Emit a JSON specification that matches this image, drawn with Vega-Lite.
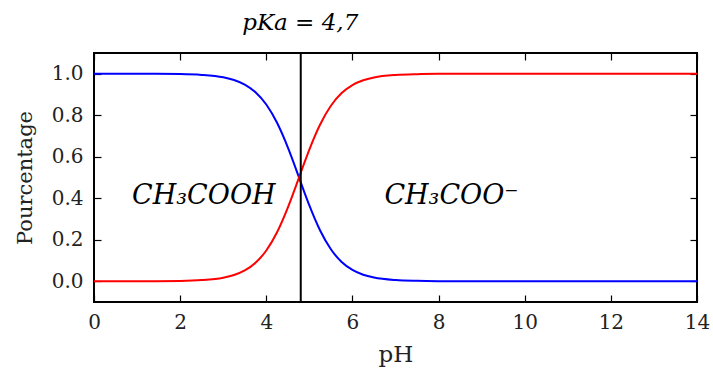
{
  "$schema": "https://vega.github.io/schema/vega-lite/v6.json",
  "autosize": "none",
  "width": 603,
  "height": 249,
  "padding": {"left": 94, "top": 53, "right": 16, "bottom": 70},
  "background": "white",
  "config": {
    "view": {"stroke": "black", "strokeWidth": 2},
    "axis": {
      "grid": false,
      "domain": false,
      "labelFlush": false,
      "tickColor": "black",
      "tickWidth": 1.2,
      "tickSize": -7,
      "labelFont": "DejaVu Serif",
      "labelFontSize": 20,
      "labelColor": "#222",
      "titleFont": "DejaVu Serif",
      "titleFontWeight": "normal",
      "titleColor": "#222"
    }
  },
  "title": {
    "text": "pKa = 4,7",
    "font": "DejaVu Serif",
    "fontStyle": "italic",
    "fontWeight": "normal",
    "fontSize": 23,
    "anchor": "start",
    "dx": 228,
    "offset": 17,
    "color": "black"
  },
  "datasets": {
    "curves": [
      {"pH": 0, "frac": 1.0, "species": "CH3COOH"},
      {"pH": 1, "frac": 0.99983, "species": "CH3COOH"},
      {"pH": 2, "frac": 0.99827, "species": "CH3COOH"},
      {"pH": 2.5, "frac": 0.99453, "species": "CH3COOH"},
      {"pH": 3, "frac": 0.98292, "species": "CH3COOH"},
      {"pH": 3.25, "frac": 0.97003, "species": "CH3COOH"},
      {"pH": 3.5, "frac": 0.94791, "species": "CH3COOH"},
      {"pH": 3.75, "frac": 0.91097, "species": "CH3COOH"},
      {"pH": 4, "frac": 0.85196, "species": "CH3COOH"},
      {"pH": 4.25, "frac": 0.76392, "species": "CH3COOH"},
      {"pH": 4.5, "frac": 0.64535, "species": "CH3COOH"},
      {"pH": 4.6, "frac": 0.59107, "species": "CH3COOH"},
      {"pH": 4.7, "frac": 0.53449, "species": "CH3COOH"},
      {"pH": 4.76, "frac": 0.5, "species": "CH3COOH"},
      {"pH": 4.8, "frac": 0.47699, "species": "CH3COOH"},
      {"pH": 4.9, "frac": 0.4201, "species": "CH3COOH"},
      {"pH": 5, "frac": 0.36526, "species": "CH3COOH"},
      {"pH": 5.25, "frac": 0.24448, "species": "CH3COOH"},
      {"pH": 5.5, "frac": 0.15395, "species": "CH3COOH"},
      {"pH": 5.75, "frac": 0.09283, "species": "CH3COOH"},
      {"pH": 6, "frac": 0.05442, "species": "CH3COOH"},
      {"pH": 6.25, "frac": 0.03134, "species": "CH3COOH"},
      {"pH": 6.5, "frac": 0.01787, "species": "CH3COOH"},
      {"pH": 7, "frac": 0.00572, "species": "CH3COOH"},
      {"pH": 7.5, "frac": 0.00182, "species": "CH3COOH"},
      {"pH": 8, "frac": 0.00058, "species": "CH3COOH"},
      {"pH": 9, "frac": 0.00006, "species": "CH3COOH"},
      {"pH": 10, "frac": 0.00001, "species": "CH3COOH"},
      {"pH": 12, "frac": 0.0, "species": "CH3COOH"},
      {"pH": 14, "frac": 0.0, "species": "CH3COOH"},
      {"pH": 0, "frac": 0.0, "species": "CH3COO-"},
      {"pH": 1, "frac": 0.00017, "species": "CH3COO-"},
      {"pH": 2, "frac": 0.00173, "species": "CH3COO-"},
      {"pH": 2.5, "frac": 0.00547, "species": "CH3COO-"},
      {"pH": 3, "frac": 0.01708, "species": "CH3COO-"},
      {"pH": 3.25, "frac": 0.02997, "species": "CH3COO-"},
      {"pH": 3.5, "frac": 0.05209, "species": "CH3COO-"},
      {"pH": 3.75, "frac": 0.08903, "species": "CH3COO-"},
      {"pH": 4, "frac": 0.14804, "species": "CH3COO-"},
      {"pH": 4.25, "frac": 0.23608, "species": "CH3COO-"},
      {"pH": 4.5, "frac": 0.35465, "species": "CH3COO-"},
      {"pH": 4.6, "frac": 0.40893, "species": "CH3COO-"},
      {"pH": 4.7, "frac": 0.46551, "species": "CH3COO-"},
      {"pH": 4.76, "frac": 0.5, "species": "CH3COO-"},
      {"pH": 4.8, "frac": 0.52301, "species": "CH3COO-"},
      {"pH": 4.9, "frac": 0.5799, "species": "CH3COO-"},
      {"pH": 5, "frac": 0.63474, "species": "CH3COO-"},
      {"pH": 5.25, "frac": 0.75552, "species": "CH3COO-"},
      {"pH": 5.5, "frac": 0.84605, "species": "CH3COO-"},
      {"pH": 5.75, "frac": 0.90717, "species": "CH3COO-"},
      {"pH": 6, "frac": 0.94558, "species": "CH3COO-"},
      {"pH": 6.25, "frac": 0.96866, "species": "CH3COO-"},
      {"pH": 6.5, "frac": 0.98213, "species": "CH3COO-"},
      {"pH": 7, "frac": 0.99428, "species": "CH3COO-"},
      {"pH": 7.5, "frac": 0.99818, "species": "CH3COO-"},
      {"pH": 8, "frac": 0.99942, "species": "CH3COO-"},
      {"pH": 9, "frac": 0.99994, "species": "CH3COO-"},
      {"pH": 10, "frac": 0.99999, "species": "CH3COO-"},
      {"pH": 12, "frac": 1.0, "species": "CH3COO-"},
      {"pH": 14, "frac": 1.0, "species": "CH3COO-"}
    ],
    "pka": [{"pH": 4.8}],
    "labels": [
      {"pH": 2.55, "frac": 0.41, "label": "CH₃COOH"},
      {"pH": 8.3, "frac": 0.41, "label": "CH₃COO⁻"}
    ]
  },
  "resolve": {"axis": {"x": "independent", "y": "independent"}},
  "layer": [
    {
      "data": {"name": "curves"},
      "mark": {"type": "line", "strokeWidth": 2, "interpolate": "monotone", "clip": true},
      "encoding": {
        "x": {
          "field": "pH", "type": "quantitative",
          "scale": {"domain": [0, 14], "nice": false, "zero": false},
          "axis": {"orient": "bottom", "values": [0, 2, 4, 6, 8, 10, 12, 14], "title": "pH", "titleFontSize": 23, "labelPadding": 17, "titlePadding": 11, "format": "d"}
        },
        "y": {
          "field": "frac", "type": "quantitative",
          "scale": {"domain": [-0.1, 1.1], "nice": false, "zero": false},
          "axis": {"orient": "left", "values": [0, 0.2, 0.4, 0.6, 0.8, 1.0], "format": ".1f", "title": "Pourcentage", "titleFontSize": 21, "labelPadding": 18, "titlePadding": 16}
        },
        "color": {
          "field": "species", "type": "nominal",
          "scale": {"domain": ["CH3COOH", "CH3COO-"], "range": ["#0000ff", "#ff0000"]},
          "legend": null
        }
      }
    },
    {
      "data": {"name": "pka"},
      "mark": {"type": "rule", "color": "black", "strokeWidth": 2},
      "encoding": {
        "x": {
          "field": "pH", "type": "quantitative",
          "axis": {"orient": "top", "values": [0, 2, 4, 6, 8, 10, 12, 14], "labels": false, "title": null}
        }
      }
    },
    {
      "data": {"name": "labels"},
      "mark": {"type": "text", "font": "DejaVu Serif", "fontStyle": "italic", "fontSize": 27, "color": "black"},
      "encoding": {
        "x": {"field": "pH", "type": "quantitative", "axis": null},
        "y": {
          "field": "frac", "type": "quantitative",
          "axis": {"orient": "right", "values": [0, 0.2, 0.4, 0.6, 0.8, 1.0], "labels": false, "title": null}
        },
        "text": {"field": "label"}
      }
    }
  ]
}
